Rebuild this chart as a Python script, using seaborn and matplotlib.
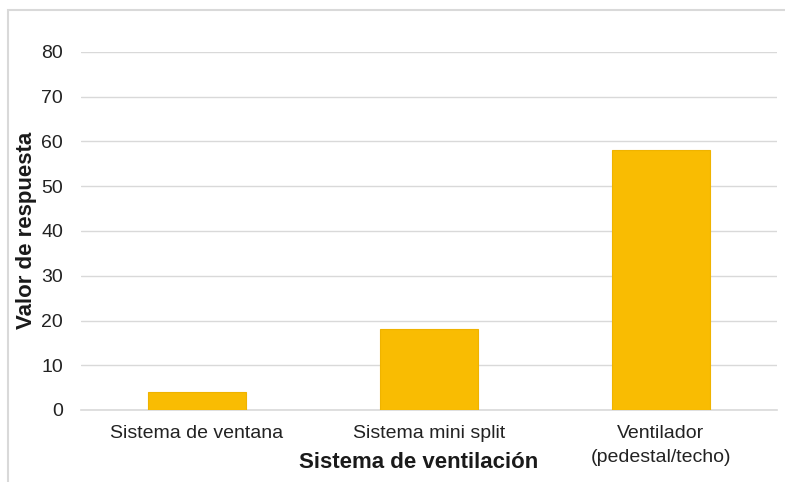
import matplotlib
matplotlib.use("Agg")
import matplotlib.pyplot as plt
import seaborn as sns
import pandas as pd
from matplotlib.patches import Rectangle

categories = ["Sistema de ventana", "Sistema mini split", "Ventilador\n(pedestal/techo)"]
values = [4, 18, 58]
yticks = [0, 10, 20, 30, 40, 50, 60, 70, 80]
xlabel = "Sistema de ventilación"
ylabel = "Valor de respuesta"

sns.set_theme(style="white")
plt.rcParams['font.family'] = ['Liberation Sans', 'DejaVu Sans']

df = pd.DataFrame({"cat": categories, "val": values})

fig = plt.figure(figsize=(7.85, 4.82), dpi=100)
ax = fig.add_axes([81/785, 1-410/482, 696/785, 358/482])

sns.barplot(data=df, x="cat", y="val", ax=ax, color="#F9BC02",
            saturation=1, width=0.425, edgecolor="#EFB300", linewidth=0.8, zorder=3)

ax.set_ylim(0, 80)
ax.set_xlim(-0.5, 2.5)
ax.set_yticks(yticks)
ax.yaxis.grid(True, color="#D9D9D9", linewidth=1.0, zorder=0)
ax.set_axisbelow(True)
for s in ["top", "right", "left"]:
    ax.spines[s].set_visible(False)
ax.spines["bottom"].set_color("#D9D9D9")
ax.spines["bottom"].set_linewidth(1.2)

ax.tick_params(axis="y", length=0, pad=13, labelsize=14, labelcolor="#222222")
ax.tick_params(axis="x", length=0, pad=11, labelsize=14, labelcolor="#222222")
for lbl in ax.get_xticklabels():
    lbl.set_linespacing(1.55)

ax.set_xlabel(xlabel, fontsize=16, fontweight="bold", color="#1a1a1a")
ax.xaxis.set_label_coords(0.485, -0.148)
ax.xaxis.label.set_va("center")
ax.set_ylabel(ylabel, fontsize=16, fontweight="bold", color="#1a1a1a")
ax.yaxis.set_label_coords(-0.0776, 0.503)
ax.yaxis.label.set_va("center")

# chart border (left and top visible)
fig.patches.append(Rectangle((8/785, -0.01), 1.0, (482-10)/482 + 0.01,
                             transform=fig.transFigure, fill=False,
                             edgecolor="#D9D9D9", linewidth=1.5))

fig.savefig("out.png", dpi=100, facecolor="white")
